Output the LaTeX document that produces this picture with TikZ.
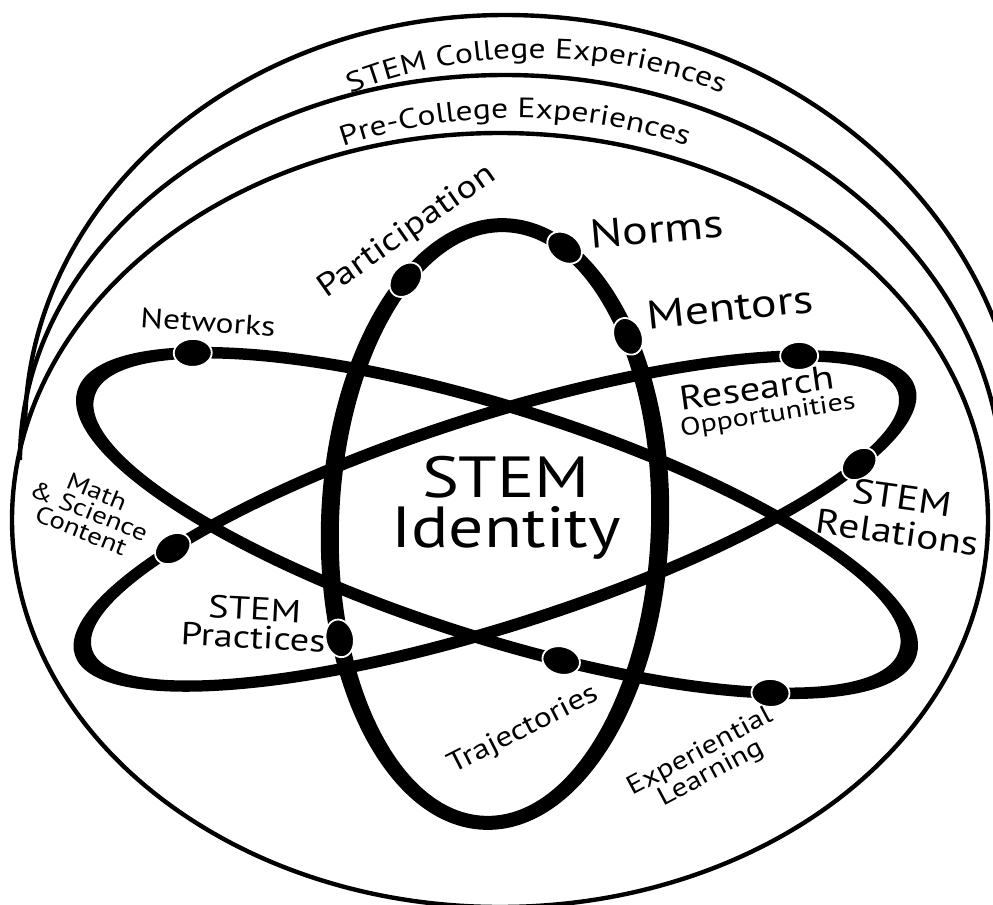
\documentclass[tikz,border=0pt]{standalone}
\usepackage{fontspec}
\setmainfont{PT Sans}[FakeStretch=1.2]
\usetikzlibrary{decorations.text,shapes.geometric}
\begin{document}
\begin{tikzpicture}[x=0.5pt,y=-0.5pt,
  shell/.style={line width=2.2pt},
  orbit/.style={fill=black,even odd rule},
  electron/.style={ellipse,fill=black,draw=white,line width=0.9pt,inner sep=0pt,
    minimum width=19pt,minimum height=14pt},
  lbl/.style={inner sep=0pt,align=center}]
\useasboundingbox (0,0) rectangle (993,905);
\clip (0,0) rectangle (993,905);

% experience shells: the inner one is closed, the two outer ones meet it on the left
\draw[shell] (500,520) ellipse [x radius=488, y radius=387];
\draw[shell] (20,460) arc[start angle=180,end angle=270,x radius=485,y radius=385]
                      arc[start angle=270,end angle=360,x radius=498,y radius=415];
\draw[shell] (25,430) arc[start angle=180,end angle=270,x radius=480,y radius=415]
                      arc[start angle=270,end angle=360,x radius=518,y radius=455];

% shell captions
\path[decorate,decoration={text along path,text align=center,
  text={|\fontsize{14}{16}\selectfont|STEM College Experiences}}]
  (77,470) arc[start angle=180,end angle=360,x radius=460,y radius=412];
\path[decorate,decoration={text along path,text align=center,
  text={|\fontsize{14}{16}\selectfont|Pre-College Experiences}}]
  (65,490) arc[start angle=180,end angle=360,x radius=450,y radius=372];

% orbit running from upper left to lower right
\begin{scope}[shift={(497,523)},rotate=-17.6]
  \fill[orbit] (0,0) ellipse[x radius=440,y radius=121] (0,0) ellipse[x radius=422,y radius=109];
  \node[electron,rotate=1.5] (eNetworks) at (217.6:431 and 115) {};
  \node[electron,rotate=-14] (eTraj)     at (76.2:431 and 115) {};
  \node[electron,rotate=-2]  (eExp)      at (43.6:431 and 115) {};
\end{scope}

% orbit running from lower left to upper right
\begin{scope}[shift={(495,521)},rotate=17.7]
  \fill[orbit] (0,0) ellipse[x radius=441,y radius=111] (0,0) ellipse[x radius=423,y radius=99];
  \node[electron,rotate=0.5]  (eResearch)  at (321.9:432 and 105) {};
  \node[electron,rotate=38.6] (eRelations) at (32.5:432 and 105) {};
  \node[electron,rotate=32.3] (eMath)      at (223.1:432 and 105) {};
\end{scope}

% upright orbit
\begin{scope}[shift={(495,524)},rotate=-2]
  \fill[orbit] (0,0) ellipse[x radius=174,y radius=306] (0,0) ellipse[x radius=156,y radius=292];
  \node[electron,rotate=51]    (ePart)      at (233.7:165 and 299) {};
  \node[electron,rotate=-37.2] (eNorms)     at (291.3:165 and 299) {};
  \node[electron,rotate=-67.2] (eMentors)   at (320:165 and 299) {};
  \node[electron,rotate=-78.5] (ePractices) at (156.4:165 and 299) {};
\end{scope}

% labels
\node[lbl,font=\fontsize{29}{25}\selectfont] (identity) at (506,508) {STEM\\Identity};
\node[lbl,font=\fontsize{16}{18}\selectfont,rotate=35] (participation) at (407,232) {Participation};
\node[lbl,font=\fontsize{20}{20}\selectfont,rotate=5] (norms) at (657,229) {Norms};
\node[lbl,font=\fontsize{20}{20}\selectfont,rotate=6] (mentors) at (730,307) {Mentors};
\node[lbl,font=\fontsize{14}{16}\selectfont,rotate=-4] (networks) at (208,322) {Networks};
\node[lbl,font=\fontsize{17}{17}\selectfont,rotate=8] (research) at (757,388) {Research};
\node[lbl,font=\fontsize{12.5}{12}\selectfont,rotate=9] (opportunities) at (768,416) {Opportunities};
\node[lbl,font=\fontsize{17.3}{17.5}\selectfont,rotate=-8] (relations) at (900,515) {STEM\\Relations};
\node[lbl,font=\fontsize{12}{10.5}\selectfont,rotate=-22] (mathsci) at (89,511) {Math\\\& Science\\Content};
\node[lbl,font=\fontsize{16}{14}\selectfont,rotate=-3] (practices) at (254,623) {STEM\\Practices};
\node[lbl,font=\fontsize{14}{14}\selectfont,rotate=27] (trajectories) at (524,730) {Trajectories};
\node[lbl,font=\fontsize{13}{12}\selectfont,rotate=28] (experiential) at (706,763) {Experiential\\Learning};
\end{tikzpicture}
\end{document}
